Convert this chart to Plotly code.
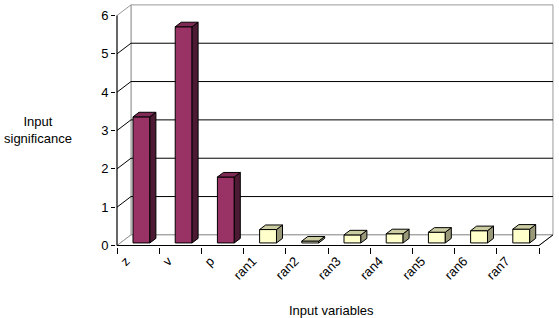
import plotly.graph_objects as go

# ---- data ----
categories = ["z", "v", "p", "ran1", "ran2", "ran3", "ran4", "ran5", "ran6", "ran7"]
values = [3.29, 5.64, 1.72, 0.35, 0.05, 0.21, 0.24, 0.28, 0.32, 0.36]
groups = ["input", "input", "input", "random", "random", "random", "random", "random", "random", "random"]
y_ticks = [0, 1, 2, 3, 4, 5, 6]

# ---- style ----
DX, DY = 0.331, 0.277        # depth vector of the 3-D box (axis units)
BAR_W = 0.40                 # bar width (category units)
BAR_F = 0.24                 # depth position of bar front face
BAR_D = 0.43                 # bar depth (fraction of full depth)
YMAX = 6
colors = {
    "input": dict(front="#993366", top="#7F2A55", side="#4D1A33"),
    "random": dict(front="#FFFFCC", top="#CCCCA3", side="#99997A"),
}
WALL = "#999999"
FONT = "Liberation Sans, Arial, sans-serif"
n = len(categories)

fig = go.Figure()

def poly(xs, ys, fill, line, width=1):
    fig.add_trace(go.Scatter(x=xs + [xs[0]], y=ys + [ys[0]], mode="lines",
                             fill="toself" if fill else None, fillcolor=fill,
                             line=dict(color=line, width=width),
                             hoverinfo="skip", showlegend=False))

def seg(xs, ys, color, width=1):
    fig.add_trace(go.Scatter(x=xs, y=ys, mode="lines", line=dict(color=color, width=width),
                             hoverinfo="skip", showlegend=False))

# back wall
poly([DX, n + DX, n + DX, DX], [DY, DY, YMAX + DY, YMAX + DY], "white", WALL)
# left wall
poly([0, DX, DX, 0], [0, DY, YMAX + DY, YMAX], "white", WALL)
# floor
poly([0, n, n + DX, DX], [0, 0, DY, DY], "white", WALL)
# gridlines (back wall + left wall)
for v in y_ticks[1:-1]:
    seg([0, DX, n + DX], [v, v + DY, v + DY], "black")
# floor front + right edge, front axis
seg([0, n, n + DX], [0, 0, DY], "black")
seg([0, 0], [0, YMAX], "black")

# bars
for i, (c, h, g) in enumerate(zip(categories, values, groups)):
    col = colors[g]
    x0 = i + 0.5 - BAR_W / 2 + BAR_F * DX
    x1 = x0 + BAR_W
    y0 = BAR_F * DY
    y1 = y0 + h
    ox, oy = BAR_D * DX, BAR_D * DY
    poly([x0, x1, x1, x0], [y0, y0, y1, y1], col["front"], "black")
    poly([x1, x1 + ox, x1 + ox, x1], [y0, y0 + oy, y1 + oy, y1], col["side"], "black")
    poly([x0, x1, x1 + ox, x0 + ox], [y1, y1, y1 + oy, y1 + oy], col["top"], "black")

L, R, T, B = 116, 1, 3, 71
W, H = 559, 318
PW, PH = W - L - R, H - T - B
u_x, u_y = 42.2, 38.33
xmin = -1 / u_x
ymin = -1.5 / u_y

def px_to_paper(px, py):
    return (px - L) / PW, (H - B - py) / PH

ax1, ay1 = px_to_paper(38, 130)
ax2, ay2 = px_to_paper(331, 310)

fig.update_layout(
    width=W, height=H, autosize=False,
    margin=dict(l=L, r=R, t=T, b=B),
    plot_bgcolor="white", paper_bgcolor="white",
    font=dict(family=FONT, size=13, color="black"),
    showlegend=False,
    xaxis=dict(range=[xmin, xmin + PW / u_x], showgrid=False, zeroline=False, showline=False,
               tickmode="array", tickvals=[i + 0.5 for i in range(n)], ticktext=categories,
               tickangle=-45, ticks="", ticklen=0, ticklabelshift=-12, ticklabelstandoff=3,
               minor=dict(tickmode="array", tickvals=list(range(n + 1)), ticks="outside",
                          ticklen=6, tickcolor="black", showgrid=False),
               fixedrange=True),
    yaxis=dict(range=[ymin, ymin + PH / u_y], showgrid=False, zeroline=False, showline=False,
               tickmode="array", tickvals=y_ticks, ticktext=[str(t) for t in y_ticks],
               ticks="outside", ticklen=4, tickcolor="black", fixedrange=True),
    annotations=[
        dict(text="Input<br>significance", x=ax1, y=ay1, xref="paper", yref="paper",
             xanchor="center", yanchor="middle", showarrow=False, font=dict(size=13)),
        dict(text="Input variables", x=ax2, y=ay2, xref="paper", yref="paper",
             xanchor="center", yanchor="middle", showarrow=False, font=dict(size=13)),
    ],
)
fig.write_html("out.html")
